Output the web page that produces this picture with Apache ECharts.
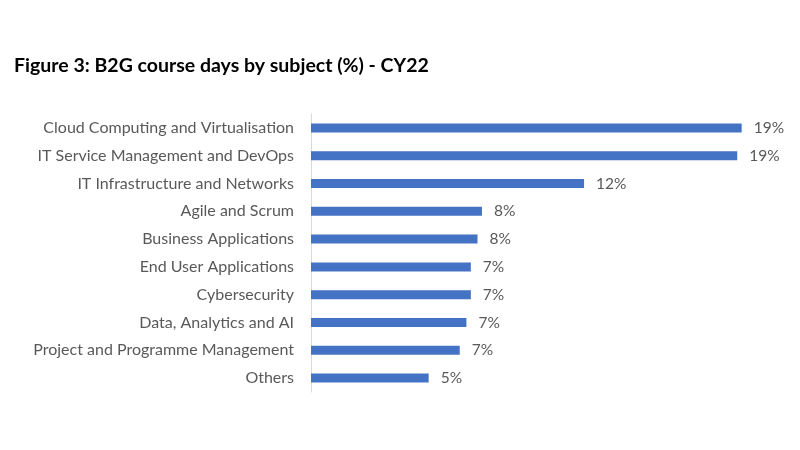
<!DOCTYPE html>
<html>
<head>
<meta charset="utf-8">
<script src="https://cdn.jsdelivr.net/npm/echarts@6/dist/echarts.min.js"></script>
<style>
html,body{margin:0;padding:0;background:#fff;}
#chart{width:800px;height:450px;}
</style>
</head>
<body>
<div id="chart"></div>
<script>
const titleText = 'Figure 3: B2G course days by subject (%) - CY22';
const categories = [
  'Cloud Computing and Virtualisation',
  'IT Service Management and DevOps',
  'IT Infrastructure and Networks',
  'Agile and Scrum',
  'Business Applications',
  'End User Applications',
  'Cybersecurity',
  'Data, Analytics and AI',
  'Project and Programme Management',
  'Others'
];
const values = [19.4, 19.2, 12.3, 7.7, 7.5, 7.2, 7.2, 7.0, 6.7, 5.3];

const chart = echarts.init(document.getElementById('chart'), null, {renderer: 'canvas'});
chart.setOption({
  backgroundColor: '#ffffff',
  animation: false,
  title: {
    text: titleText,
    left: 9,
    top: 51,
    textStyle: {fontFamily: 'Lato', fontWeight: 'bold', fontSize: 19.5, color: '#000000'}
  },
  grid: {left: 311, right: 45, top: 114, bottom: 58, containLabel: false},
  xAxis: {
    type: 'value', min: 0, max: 20,
    show: false
  },
  yAxis: {
    type: 'category',
    data: categories,
    inverse: true,
    axisLine: {show: true, lineStyle: {color: '#d9d9d9', width: 1}},
    axisTick: {show: false},
    axisLabel: {fontFamily: 'Lato', fontSize: 16, color: '#595959', margin: 17}
  },
  series: [{
    type: 'bar',
    data: values,
    barWidth: 9,
    itemStyle: {color: '#4472c4'},
    label: {
      show: true, position: 'right', distance: 12,
      fontFamily: 'Lato', fontSize: 15.5, color: '#595959',
      formatter: p => Math.round(p.value) + '%'
    }
  }]
});
</script>
</body>
</html>
